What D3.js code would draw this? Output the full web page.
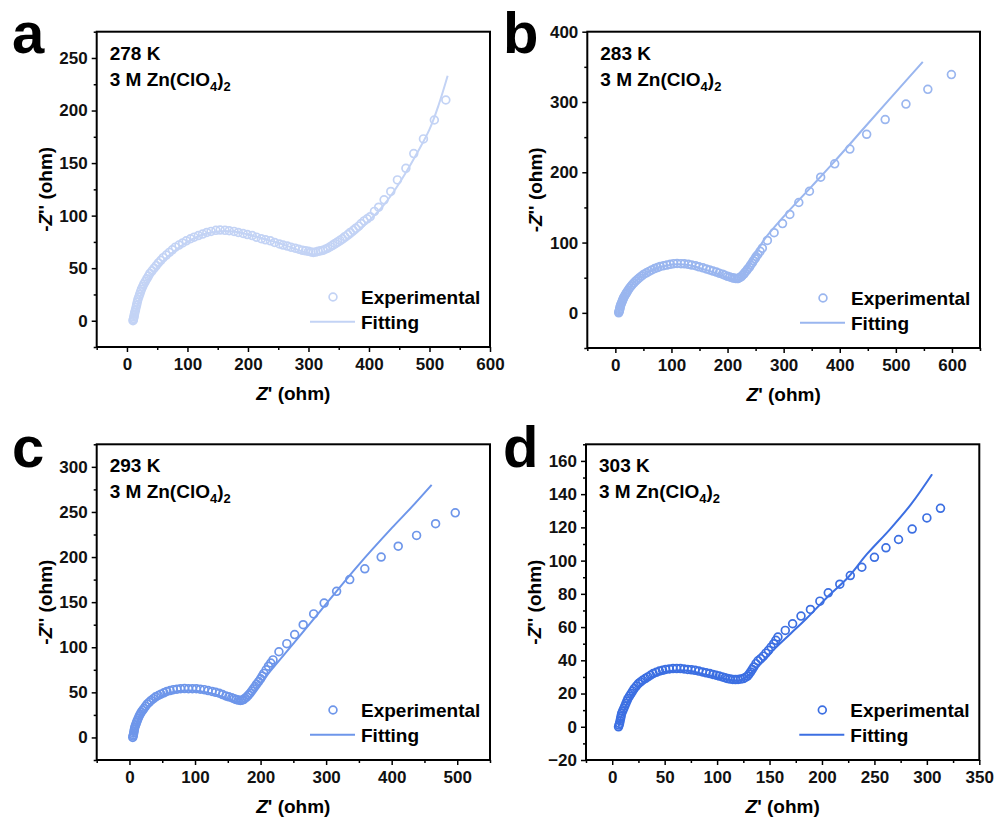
<!DOCTYPE html>
<html>
<head>
<meta charset="utf-8">
<script src="https://cdn.jsdelivr.net/npm/d3@7"></script>
<style>
  body { margin: 0; background: #fff; }
  svg { font-family: "Liberation Sans", Arial, sans-serif; font-weight: bold; }
</style>
</head>
<body>
<div id="chart"></div>
<script>
// 278 K
const exp278X = [10, 10.5, 11, 11.5, 12, 12.5, 13, 14, 15, 16, 17, 18, 19.5, 21, 22.5, 24, 26, 28, 30.5, 33, 35.5, 38, 41.5, 45, 48.5, 52, 56, 60, 65, 70, 75, 80, 86, 92, 98, 105, 111, 118, 125, 132, 139, 147, 154, 162, 169, 177, 184, 192, 199, 207, 214, 222, 229, 237, 244, 252, 258, 265, 271, 278, 284, 290, 295, 300, 304, 308, 312, 316, 320, 324, 328, 332, 336, 340, 344, 348, 352, 356, 360, 365, 369, 374, 378, 383, 387, 392, 397, 402, 409, 416, 425, 436, 447, 461, 474, 490, 508, 527];
const exp278Y = [0, 1, 2, 3.5, 5, 6.5, 8, 10, 12.5, 15, 17.5, 20, 22.5, 25, 27.5, 30, 32.5, 35, 37.5, 40, 42.5, 45, 47.5, 50, 52.5, 55, 57.5, 60, 62.5, 65, 67.5, 70, 72, 74, 76, 78, 79.5, 81, 82.5, 84, 85, 86, 86.3, 86, 85.6, 85, 84, 83, 82, 81, 79.5, 78, 77, 76, 74.5, 73, 72, 71, 70, 69, 68, 67, 66.5, 66, 65.5, 65, 65.3, 66, 66.5, 67, 68, 69, 70.5, 72, 73.5, 75, 76.5, 78, 80, 82, 84, 86, 88, 90, 92.5, 95, 97, 99, 104, 108, 115, 123, 134, 145, 159, 173, 191, 210];
const fit278X = [10, 15, 20, 30, 45, 60, 80, 100, 125, 150, 175, 200, 225, 250, 275, 300, 310, 320, 340, 360, 380, 400, 420, 440, 460, 480, 500, 515, 530];
const fit278Y = [0, 10, 20, 33, 47, 57, 67, 75, 82, 85, 85, 82, 78, 74, 69, 64, 63, 64, 68, 75, 84, 95, 107, 122, 140, 160, 182, 205, 233];

// 283 K
const exp283X = [6, 6.5, 7, 7.5, 8, 8.5, 9, 10, 11, 12, 13, 14, 15, 16.5, 18, 19.5, 21, 23, 25, 27.5, 30, 33, 36, 39.5, 43, 47, 51, 55.5, 60, 65, 70, 75, 80, 86, 92, 98, 104, 110, 117, 123, 130, 136, 143, 149, 156, 162, 168, 174, 180, 185, 191, 195, 200, 204, 208, 211, 214, 217, 219, 221, 224, 226, 229, 231, 234, 236, 239, 241, 244, 246, 249, 251, 254, 258, 262, 271, 283, 298, 311, 327, 346, 366, 391, 418, 448, 481, 518, 557, 599];
const exp283Y = [0, 1.5, 3, 4.5, 6, 8, 10, 12, 14, 16, 18, 20, 22, 24, 26, 28, 30, 32.5, 35, 37.5, 40, 42.5, 45, 47.5, 50, 52.5, 55, 57, 59, 61, 63, 64.5, 66, 67, 68, 69, 70, 70.2, 70, 69.7, 69, 68, 67, 65.5, 64, 62.5, 61, 59.5, 58, 56.5, 55, 53.5, 52, 51, 50, 49.5, 49, 48.8, 49, 50, 51, 53, 55, 57.5, 60, 62.5, 65, 68, 71, 74, 77, 80, 83, 87.5, 92, 103, 114, 127, 140, 157, 173, 193, 212, 233, 254, 275, 297, 318, 339];
const fit283X = [6, 8, 10, 15, 22, 30, 40, 55, 70, 90, 110, 130, 150, 170, 190, 205, 215, 222, 230, 240, 250, 266, 300, 350, 388, 450, 500, 548];
const fit283Y = [0, 6, 12, 22, 32, 40, 48, 56, 62, 67, 69, 68, 64, 59, 53, 49, 47, 48, 56, 70, 84, 105, 137, 180, 213, 269, 314, 357];

// 293 K
const exp293X = [5, 5.5, 6, 6.5, 7, 7.5, 8, 9, 10, 11, 12, 13.5, 15, 16.5, 18, 20, 22, 24.5, 27, 30, 33, 36.5, 40, 44, 48, 52.5, 57, 62, 67, 72.5, 78, 84, 90, 96, 102, 108, 114, 120, 126, 131.5, 137, 142, 147, 151.5, 156, 159.5, 163, 166, 169, 171.5, 174, 176.5, 179, 181.5, 184, 186.5, 189, 191.5, 194, 197, 200, 202.5, 205, 208.5, 212, 215.5, 219, 228, 240, 252, 265, 281, 297, 316, 336, 359, 384, 410, 438, 467, 497];
const exp293Y = [0, 1.5, 3, 5, 7, 9, 11, 13, 15, 17, 19, 21.5, 24, 26, 28, 30, 32, 34.5, 37, 39, 41, 43, 45, 46.5, 48, 49.5, 51, 52, 53, 53.5, 54, 54.2, 54, 54, 54, 53.5, 53, 52, 51, 50, 49, 47.5, 46, 45, 44, 43, 42, 41.5, 41, 41.3, 42, 43.5, 45, 47, 49, 51.5, 54, 56.5, 59, 62, 65, 68, 71, 75, 79, 82.5, 86, 95, 104, 114, 125, 137, 149, 162, 175, 187, 200, 212, 224, 237, 249];
const fit293X = [5, 7, 10, 15, 22, 30, 40, 55, 70, 90, 110, 130, 150, 165, 172, 180, 190, 200, 220, 250, 292, 348, 400, 430, 461];
const fit293Y = [0, 6, 13, 21, 29, 36, 42, 48, 51, 52, 51, 48, 43, 39, 38, 41, 50, 60, 78, 104, 141, 190, 232, 255, 280];

// 303 K
const exp303X = [6, 6.5, 7, 7.5, 8, 8.5, 9, 10, 11, 12, 13, 14, 15, 16.5, 18, 19.5, 21, 23, 25, 27, 29, 31.5, 34, 36.5, 39, 42, 45, 48, 51, 54.5, 58, 61.5, 65, 68.5, 72, 75.5, 79, 82.5, 86, 89.5, 93, 96, 99, 102, 105, 107.5, 110, 112.5, 115, 117.5, 120, 122.5, 125, 127, 129, 130.5, 132, 133.5, 135, 137, 139, 141.5, 144, 146.5, 149, 151.5, 154, 156, 158, 165, 172, 180, 189, 198, 206, 217, 227, 238, 250, 261, 273, 286, 300, 313];
const exp303Y = [0, 1, 2, 3.5, 5, 6.5, 8, 9.5, 11, 12.5, 14, 15.5, 17, 18.5, 20, 21.5, 23, 24.5, 26, 27, 28, 29, 30, 31, 32, 32.8, 33.5, 34, 34.5, 34.8, 35, 35, 35, 34.8, 34.5, 34.3, 34, 33.5, 33, 32.5, 32, 31.5, 31, 30.5, 30, 29.5, 29, 28.7, 28.5, 28.4, 28.5, 28.7, 29, 29.7, 30.5, 31.7, 33, 34.5, 36, 38, 39.7, 41, 42.5, 44.3, 46, 48, 50, 52, 54, 58, 62, 66.6, 70.6, 75.6, 80.6, 85.8, 91, 96, 102, 107.7, 112.7, 119, 125.7, 131.5];
const fit303X = [6, 8, 11, 15, 20, 27, 35, 45, 55, 65, 75, 85, 95, 105, 115, 122, 128, 135, 145, 155, 170, 185, 205, 225, 243, 265, 285, 305];
const fit303Y = [0, 5, 10, 15, 20, 25, 29, 32, 33.5, 34, 33.5, 32, 30.5, 29, 28, 28, 30, 34, 40, 47, 56, 65, 78, 90, 104, 119, 134, 152];

const temps = ["278 K", "283 K", "293 K", "303 K"];
const letters = ["a", "b", "c", "d"];
const colors = ["#c3d3f5", "#9ab6ef", "#6e96ea", "#3c6fe2"];

const zip = (xs, ys) => xs.map((x, i) => [x, ys[i]]);

const panels = [
    { letter: letters[0], temp: temps[0], color: colors[0], exp: zip(exp278X, exp278Y), fit: zip(fit278X, fit278Y),
      box: [96.7, 31.7, 490, 347], xDom: [-50, 600], yDom: [-25, 275], xStep: 100, yStep: 50, lx: 12, ly: 53 },
    { letter: letters[1], temp: temps[1], color: colors[1], exp: zip(exp283X, exp283Y), fit: zip(fit283X, fit283Y),
      box: [587.3, 31.7, 980, 348], xDom: [-50, 650], yDom: [-50, 400], xStep: 100, yStep: 100, lx: 503, ly: 53 },
    { letter: letters[2], temp: temps[2], color: colors[2], exp: zip(exp293X, exp293Y), fit: zip(fit293X, fit293Y),
      box: [96.7, 444.3, 490, 760], xDom: [-50, 550], yDom: [-25, 325], xStep: 100, yStep: 50, lx: 12, ly: 467 },
    { letter: letters[3], temp: temps[3], color: colors[3], exp: zip(exp303X, exp303Y), fit: zip(fit303X, fit303Y),
      box: [586, 444.3, 979.3, 760], xDom: [-25, 350], yDom: [-20, 170], xStep: 50, yStep: 20, lx: 503, ly: 467 }
];

const svg = d3.select("#chart")
    .append("svg")
    .attr("width", 994)
    .attr("height", 820);

// ticks on multiples of step inside the domain
function ticksOf(dom, step, offset) {
    const out = [];
    const start = Math.ceil((dom[0] - offset) / step) * step + offset;
    for (let v = start; v <= dom[1] + 1e-9; v += step) out.push(v);
    return out;
}

panels.forEach(p => {
    const [l, t, r, b] = p.box;
    const x = d3.scaleLinear().domain(p.xDom).range([l, r]);
    const y = d3.scaleLinear().domain(p.yDom).range([b, t]);

    // panel letter
    svg.append("text")
        .attr("x", p.lx)
        .attr("y", p.ly)
        .attr("font-size", 58)
        .text(p.letter);

    // axes
    const xMajor = ticksOf(p.xDom, p.xStep, 0).filter(v => v >= 0);
    const xMinor = ticksOf(p.xDom, p.xStep, p.xStep / 2);
    const yMajor = ticksOf(p.yDom, p.yStep, 0);
    const yMinor = ticksOf(p.yDom, p.yStep, p.yStep / 2);

    const gx = svg.append("g")
        .attr("transform", `translate(0,${b})`)
        .call(d3.axisBottom(x).tickValues(xMajor).tickSize(5).tickSizeOuter(0).tickPadding(6));
    svg.append("g")
        .attr("transform", `translate(0,${b})`)
        .call(d3.axisBottom(x).tickValues(xMinor).tickSize(3).tickSizeOuter(0).tickFormat(""));
    const gy = svg.append("g")
        .attr("transform", `translate(${l},0)`)
        .call(d3.axisLeft(y).tickValues(yMajor).tickSize(5).tickSizeOuter(0).tickPadding(4));
    svg.append("g")
        .attr("transform", `translate(${l},0)`)
        .call(d3.axisLeft(y).tickValues(yMinor).tickSize(3).tickSizeOuter(0).tickFormat(""));

    svg.selectAll(".domain").remove();
    svg.selectAll(".tick line").attr("stroke", "#000").attr("stroke-width", 1.5);
    [gx, gy].forEach(g => g.selectAll("text")
        .attr("font-size", 17)
        .attr("font-family", "'Liberation Sans', Arial, sans-serif")
        .attr("font-weight", "bold")
        .attr("fill", "#111"));

    // frame
    svg.append("rect")
        .attr("x", l).attr("y", t)
        .attr("width", r - l).attr("height", b - t)
        .attr("fill", "none")
        .attr("stroke", "#000")
        .attr("stroke-width", 2);

    // axis titles
    const xt = svg.append("text")
        .attr("x", (l + r) / 2)
        .attr("y", b + 53)
        .attr("text-anchor", "middle")
        .attr("font-size", 19);
    xt.append("tspan").attr("font-style", "italic").text("Z");
    xt.append("tspan").text("' (ohm)");

    const yt = svg.append("text")
        .attr("transform", `translate(${l - 45},${(t + b) / 2}) rotate(-90)`)
        .attr("text-anchor", "middle")
        .attr("font-size", 19);
    yt.append("tspan").text("-");
    yt.append("tspan").attr("font-style", "italic").text("Z");
    yt.append("tspan").text("'' (ohm)");

    // annotation
    svg.append("text")
        .attr("x", l + 13)
        .attr("y", t + 28)
        .attr("font-size", 19)
        .text(p.temp);
    const ann = svg.append("text")
        .attr("x", l + 13)
        .attr("y", t + 54)
        .attr("font-size", 19);
    ann.append("tspan").text("3 M Zn(ClO");
    ann.append("tspan").attr("font-size", 13).attr("dy", 5).text("4");
    ann.append("tspan").attr("dy", -5).text(")");
    ann.append("tspan").attr("font-size", 13).attr("dy", 5).text("2");

    // experimental points
    svg.append("g")
        .selectAll("circle")
        .data(p.exp)
        .enter()
        .append("circle")
        .attr("cx", d => x(d[0]))
        .attr("cy", d => y(d[1]))
        .attr("r", 3.9)
        .attr("fill", "none")
        .attr("stroke", p.color)
        .attr("stroke-width", 1.7);

    // fitting line
    svg.append("path")
        .datum(p.fit)
        .attr("d", d3.line().x(d => x(d[0])).y(d => y(d[1])).curve(d3.curveCatmullRom))
        .attr("fill", "none")
        .attr("stroke", p.color)
        .attr("stroke-width", 2);

    // legend
    svg.append("circle")
        .attr("cx", r - 157)
        .attr("cy", b - 50)
        .attr("r", 3.9)
        .attr("fill", "none")
        .attr("stroke", p.color)
        .attr("stroke-width", 1.7);
    svg.append("text")
        .attr("x", r - 129)
        .attr("y", b - 43.5)
        .attr("font-size", 19)
        .text("Experimental");
    svg.append("line")
        .attr("x1", r - 180).attr("x2", r - 135)
        .attr("y1", b - 25.3).attr("y2", b - 25.3)
        .attr("stroke", p.color)
        .attr("stroke-width", 2);
    svg.append("text")
        .attr("x", r - 129)
        .attr("y", b - 18.5)
        .attr("font-size", 19)
        .text("Fitting");
});
</script>
</body>
</html>
